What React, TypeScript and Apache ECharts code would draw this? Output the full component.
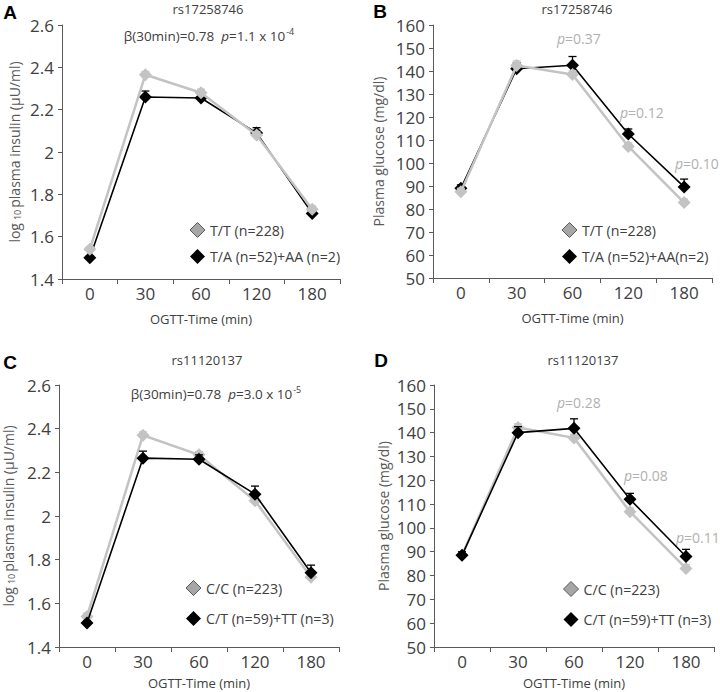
import React, { useEffect, useRef } from "react";
import * as echarts from "echarts";

const xCats = ["0", "30", "60", "120", "180"];

// Panel A: rs17258746 insulin
const insA_TT = [1.54, 2.365, 2.28, 2.08, 1.73];
const insA_TT_err = [0.012, 0.015, 0.017, 0.015, 0.015];
const insA_TA = [1.5, 2.26, 2.255, 2.09, 1.71];
const insA_TA_err = [0.01, 0.028, 0.02, 0.025, 0.02];

// Panel B: rs17258746 glucose
const gluB_TT = [87.5, 142.4, 138.5, 107.2, 82.8];
const gluB_TT_err = [1.5, 2, 1.5, 1.5, 1.5];
const gluB_TA = [89, 141, 142.5, 112.6, 89.6];
const gluB_TA_err = [1.5, 2.5, 3.8, 2.2, 3.4];

// Panel C: rs11120137 insulin
const insC_CC = [1.54, 2.37, 2.28, 2.07, 1.72];
const insC_CC_err = [0.015, 0.015, 0.015, 0.015, 0.015];
const insC_CT = [1.51, 2.265, 2.26, 2.1, 1.74];
const insC_CT_err = [0.01, 0.032, 0.02, 0.037, 0.035];

// Panel D: rs11120137 glucose
const gluD_CC = [88.5, 142.2, 137.8, 106.8, 83];
const gluD_CC_err = [1.5, 1.5, 1.5, 1.5, 1.5];
const gluD_CT = [88.5, 140, 141.8, 112, 88];
const gluD_CT_err = [1.5, 2.5, 4, 2.5, 3];

const nameA1 = "T/T (n=228)";
const nameA2 = "T/A (n=52)+AA (n=2)";
const nameB2 = "T/A (n=52)+AA(n=2)";
const nameC1 = "C/C (n=223)";
const nameC2 = "C/T (n=59)+TT (n=3)";

const FONT = "Open Sans";
const GRAY = "#c3c3c3";
const BLACK = "#000000";
const AXIS = "#595959";
const TXT = "#404040";

function xAxisFor(gi: number, nameGap: number) {
  return {
    type: "category",
    gridIndex: gi,
    data: xCats,
    boundaryGap: true,
    axisLine: { lineStyle: { color: AXIS, width: 1 } },
    axisTick: { show: true, length: 5, lineStyle: { color: AXIS } },
    axisLabel: { color: TXT, fontSize: 17, margin: 6, fontFamily: FONT },
    name: "OGTT-Time (min)",
    nameLocation: "middle",
    nameGap,
    nameTextStyle: { color: TXT, fontSize: 13, fontFamily: FONT },
    splitLine: { show: false },
  };
}

function yAxisFor(gi: number, min: number, max: number, interval: number, name: string, nameGap: number) {
  return {
    type: "value",
    gridIndex: gi,
    min,
    max,
    interval,
    axisLine: { show: true, lineStyle: { color: AXIS, width: 1 } },
    axisTick: { show: true, length: 4, lineStyle: { color: AXIS } },
    axisLabel: { color: TXT, fontSize: 17, margin: 8, fontFamily: FONT },
    splitLine: { show: false },
    name,
    nameLocation: "middle",
    nameRotate: 90,
    nameGap,
    nameTextStyle: {
      color: "#595959",
      fontSize: 14,
      fontFamily: FONT,
      rich: {
        sub: { fontSize: 9, color: "#595959", fontFamily: FONT, padding: [6, 2, 0, 3] },
      },
    },
  };
}

function lineSeries(name: string, gi: number, data: number[], color: string, width: number, z: number) {
  return {
    type: "line",
    name,
    xAxisIndex: gi,
    yAxisIndex: gi,
    data,
    symbol: "diamond",
    symbolSize: 13,
    itemStyle: { color },
    lineStyle: { color, width },
    z,
    emphasis: { disabled: true },
  };
}

function errSeries(gi: number, data: number[], err: number[], color: string, z: number) {
  return {
    type: "custom",
    xAxisIndex: gi,
    yAxisIndex: gi,
    z,
    silent: true,
    encode: { x: 0, y: 1 },
    data: data.map((v, i) => [i, v, err[i]]),
    renderItem: (params: any, api: any) => {
      const i = api.value(0);
      const v = api.value(1);
      const e = api.value(2);
      const p0 = api.coord([i, v]);
      const p1 = api.coord([i, v + e]);
      return {
        type: "group",
        children: [
          { type: "line", shape: { x1: p0[0], y1: p0[1], x2: p1[0], y2: p1[1] }, style: { stroke: color, lineWidth: 1.3 } },
          { type: "line", shape: { x1: p1[0] - 4, y1: p1[1], x2: p1[0] + 4, y2: p1[1] }, style: { stroke: color, lineWidth: 1.3 } },
        ],
      };
    },
  };
}

function legendFor(names: string[], left: number, top: number, gap: number) {
  return {
    data: [
      { name: names[0], icon: "diamond", itemStyle: { color: "#a6a6a6", borderColor: "#595959", borderWidth: 1 } },
      { name: names[1], icon: "diamond", itemStyle: { color: "#000", borderWidth: 0 } },
    ],
    left,
    top,
    orient: "vertical",
    itemWidth: 15,
    itemHeight: 15,
    itemGap: gap,
    padding: 0,
    selectedMode: false,
    textStyle: { fontSize: 14.2, color: TXT, fontFamily: FONT },
  };
}

function txt(x: number, y: number, text: string, opts: any = {}) {
  return {
    type: "text",
    x,
    y,
    style: {
      text,
      fill: opts.fill || TXT,
      fontSize: opts.fontSize || 13,
      fontFamily: opts.fontFamily || FONT,
      fontWeight: opts.fontWeight || "normal",
      align: opts.align || "center",
      verticalAlign: "middle",
      rich: opts.rich,
    },
  };
}

const betaRich = {
  t: { fill: TXT, fontSize: 13.5, fontFamily: FONT },
  i: { fill: TXT, fontSize: 13.5, fontFamily: FONT, fontStyle: "italic" },
  s: { fill: TXT, fontSize: 9, fontFamily: FONT, padding: [0, 0, 9, 1] },
};
const pRich = {
  i: { fill: "#b0b0b0", fontSize: 14, fontFamily: FONT, fontStyle: "italic" },
  t: { fill: "#b0b0b0", fontSize: 14, fontFamily: FONT },
};

export default function App() {
  const ref = useRef<HTMLDivElement>(null);
  useEffect(() => {
    if (!ref.current) return;
    const chart = echarts.init(ref.current, undefined, { renderer: "svg" });
    const insName = "log{sub|10}plasma insulin (µU/ml)";
    const gluName = "Plasma glucose (mg/dl)";
    const option: any = {
      animation: false,
      backgroundColor: "#ffffff",
      textStyle: { fontFamily: FONT },
      grid: [
        { left: 62, top: 25, width: 278, height: 254 },
        { left: 433, top: 25, width: 279, height: 253 },
        { left: 59, top: 385, width: 280, height: 262 },
        { left: 434, top: 385, width: 280, height: 262 },
      ],
      xAxis: [xAxisFor(0, 33), xAxisFor(1, 33), xAxisFor(2, 29), xAxisFor(3, 29)],
      yAxis: [
        yAxisFor(0, 1.4, 2.6, 0.2, insName, 40),
        yAxisFor(1, 50, 160, 10, gluName, 48),
        yAxisFor(2, 1.4, 2.6, 0.2, insName, 43),
        yAxisFor(3, 50, 160, 10, gluName, 44),
      ],
      legend: [
        legendFor([nameA1, nameA2], 189.5, 222, 11),
        legendFor([nameA1, nameB2], 561.5, 222, 11),
        legendFor([nameC1, nameC2], 185.5, 580, 15),
        legendFor([nameC1, nameC2], 563, 581, 15),
      ],
      series: [
        // A: black below, gray on top
        errSeries(0, insA_TA, insA_TA_err, BLACK, 1),
        lineSeries(nameA2, 0, insA_TA, BLACK, 1.6, 2),
        errSeries(0, insA_TT, insA_TT_err, GRAY, 3),
        lineSeries(nameA1, 0, insA_TT, GRAY, 2.5, 4),
        // B
        errSeries(1, gluB_TA, gluB_TA_err, BLACK, 1),
        lineSeries(nameB2, 1, gluB_TA, BLACK, 1.6, 2),
        errSeries(1, gluB_TT, gluB_TT_err, GRAY, 3),
        lineSeries(nameA1, 1, gluB_TT, GRAY, 2.5, 4),
        // C: gray below, black on top
        errSeries(2, insC_CC, insC_CC_err, GRAY, 1),
        lineSeries(nameC1, 2, insC_CC, GRAY, 2.5, 2),
        errSeries(2, insC_CT, insC_CT_err, BLACK, 3),
        lineSeries(nameC2, 2, insC_CT, BLACK, 1.6, 4),
        // D
        errSeries(3, gluD_CC, gluD_CC_err, GRAY, 1),
        lineSeries(nameC1, 3, gluD_CC, GRAY, 2.5, 2),
        errSeries(3, gluD_CT, gluD_CT_err, BLACK, 3),
        lineSeries(nameC2, 3, gluD_CT, BLACK, 1.6, 4),
      ],
      graphic: [
        txt(10, 12, "A", { fontSize: 19, fontWeight: "bold", fill: "#000", fontFamily: "Liberation Sans" }),
        txt(380, 11, "B", { fontSize: 19, fontWeight: "bold", fill: "#000", fontFamily: "Liberation Sans" }),
        txt(10, 362, "C", { fontSize: 19, fontWeight: "bold", fill: "#000", fontFamily: "Liberation Sans" }),
        txt(381, 360, "D", { fontSize: 19, fontWeight: "bold", fill: "#000", fontFamily: "Liberation Sans" }),
        txt(208, 9, "rs17258746"),
        txt(577, 9, "rs17258746"),
        txt(207, 360, "rs11120137"),
        txt(583, 360, "rs11120137"),
        txt(209, 36, "{t|β(30min)=0.78  }{i|p}{t|=1.1 x 10}{s|-4}", { rich: betaRich }),
        txt(216, 394, "{t|β(30min)=0.78  }{i|p}{t|=3.0 x 10}{s|-5}", { rich: betaRich }),
        txt(557, 38, "{i|p}{t|=0.37}", { rich: pRich, align: "left" }),
        txt(620, 112, "{i|p}{t|=0.12}", { rich: pRich, align: "left" }),
        txt(675, 163, "{i|p}{t|=0.10}", { rich: pRich, align: "left" }),
        txt(557, 402, "{i|p}{t|=0.28}", { rich: pRich, align: "left" }),
        txt(624, 475, "{i|p}{t|=0.08}", { rich: pRich, align: "left" }),
        txt(676, 537, "{i|p}{t|=0.11}", { rich: pRich, align: "left" }),
      ],
    };
    chart.setOption(option);
    return () => chart.dispose();
  }, []);
  return (
    <div
      ref={ref}
      style={{ position: "absolute", left: 0, top: 0, width: 720, height: 692, background: "#fff" }}
    />
  );
}
